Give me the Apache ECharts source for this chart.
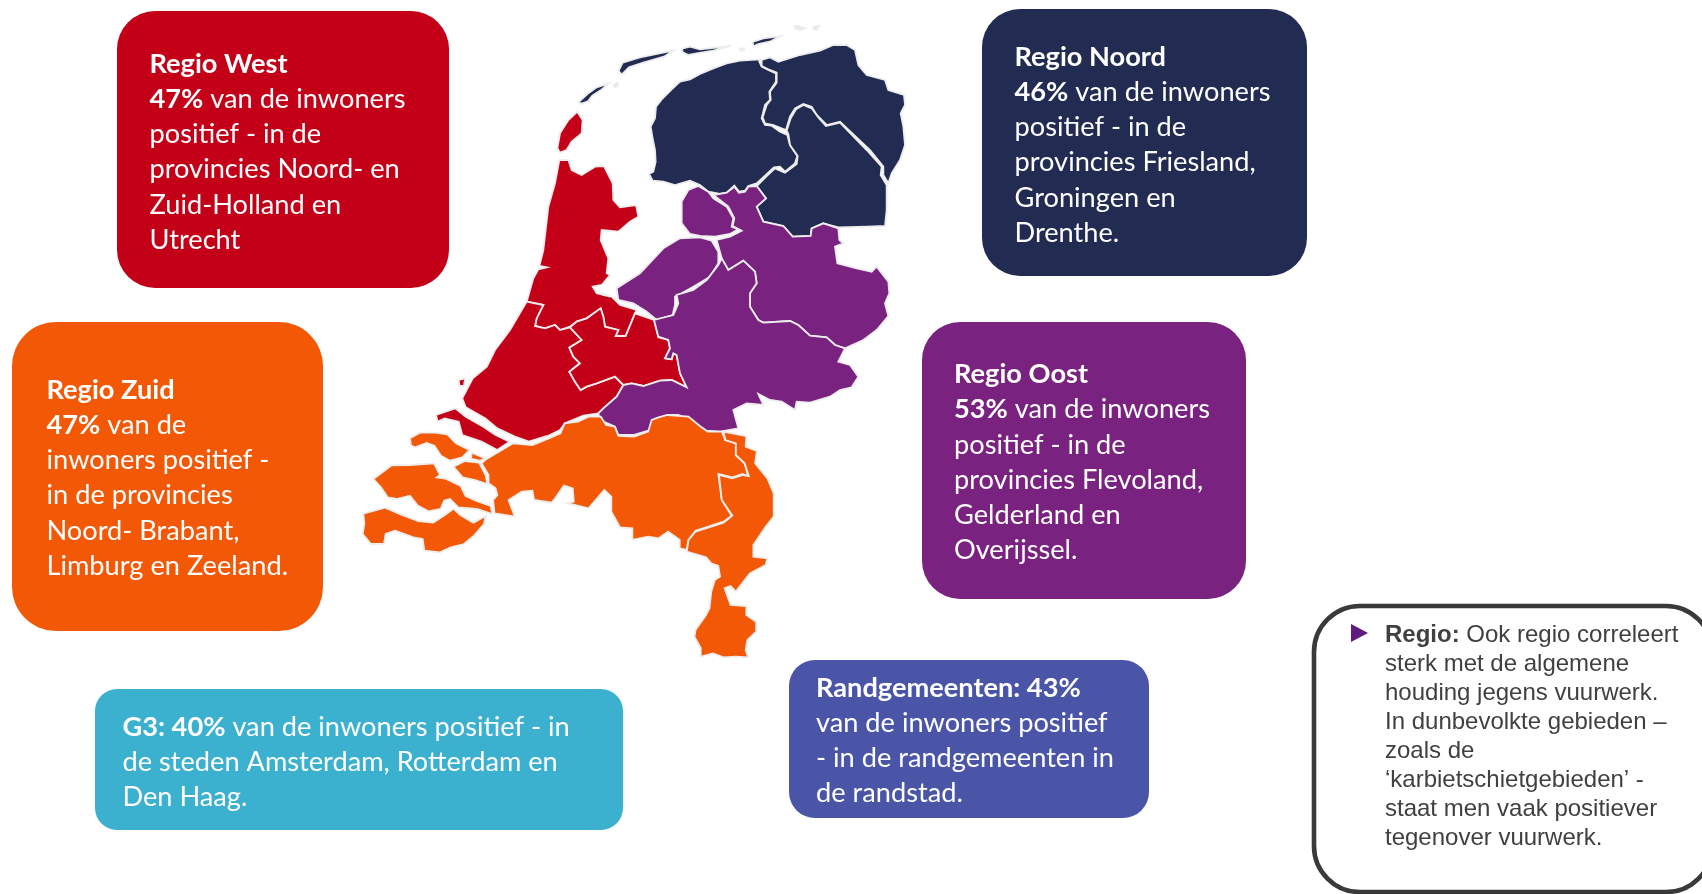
<!DOCTYPE html>
<html>
<head>
<meta charset="utf-8">
<style>html,body{margin:0;padding:0;background:#fff}#c{width:1702px;height:894px}</style>
<script src="https://cdn.jsdelivr.net/npm/echarts@6/dist/echarts.min.js"></script>
</head>
<body>
<div id="c"></div>
<script>
// ---- values ----
const regionNames = ['Regio West', 'Regio Noord', 'Regio Oost', 'Regio Zuid'];
const regionValues = [47, 46, 53, 47];
const g3Value = 40;
const randValue = 43;
const regionColors = ['#C30017', '#222B52', '#7A2280', '#F35806'];

const westLines = ['van de inwoners', 'positief - in de', 'provincies Noord- en', 'Zuid-Holland en', 'Utrecht'];
const noordLines = ['van de inwoners', 'positief - in de', 'provincies Friesland,', 'Groningen en', 'Drenthe.'];
const oostLines = ['van de inwoners', 'positief - in de', 'provincies Flevoland,', 'Gelderland en', 'Overijssel.'];
const zuidLines = ['van de', 'inwoners positief -', 'in de provincies', 'Noord- Brabant,', 'Limburg en Zeeland.'];
const g3Lines = ['van de inwoners positief - in', 'de steden Amsterdam, Rotterdam en', 'Den Haag.'];
const randLines = ['van de inwoners positief', '- in de randgemeenten in', 'de randstad.'];
const noteHead = 'Regio:';
const noteLines = ['Ook regio correleert', 'sterk met de algemene', 'houding jegens vuurwerk.', 'In dunbevolkte gebieden –', 'zoals de', '‘karbietschietgebieden’ -', 'staat men vaak positiever', 'tegenover vuurwerk.'];

// ---- map geometry: outlines, in enlarged units of four frames ----
const N = (p) => p.map(q => [500 + q[0] / 3, 10 + q[1] / 3]);
const S = (p) => p.map(q => [350 + q[0] / 2.851, 320 + q[1] / 3]);
const M = (p) => p.map(q => [480 + q[0] / 3, 250 + q[1] / 3]);
const Z = (p) => p.map(q => [350 + q[0] / 3, 400 + q[1] / 3]);

const texel = N([[232,305],[248,330],[245,370],[215,395],[200,420],[180,428],[172,415],[180,370],[205,330]]);
const vlieland = N([[235,277],[262,252],[290,232],[327,220],[302,241],[277,257],[264,274],[245,281]]);
const terschelling = N([[356,182],[368,158],[420,142],[522,121],[492,140],[430,158],[387,172],[365,194]]);
const ameland = N([[546,116],[570,110],[600,118],[692,108],[640,122],[590,130],[565,135],[548,127]]);
const schier = N([[758,96],[790,85],[842,78],[812,94],[775,102],[760,109]]);
const islet1 = N([[885,48],[895,48],[915,55],[900,60],[885,56]]);
const islet2 = N([[940,50],[958,47],[950,60],[942,58]]);
const islet3 = N([[720,115],[733,115],[730,122],[722,122]]);
const islet4 = N([[340,225],[352,218],[355,225],[345,233]]);

const friesland = N([[780,148],[720,152],[680,160],[640,175],[600,192],[570,208],[540,215],[515,238],[485,268],[468,290],[465,325],[452,350],[458,385],[465,420],[467,455],[460,485],[447,492],[458,512],[490,515],[525,525],[570,512],[600,525],[625,545],[660,552],[680,548],[703,527],[717,545],[735,542],[745,528],[770,520],[795,497],[822,472],[840,470],[855,485],[885,460],[892,438],[870,405],[862,375],[840,365],[815,347],[795,345],[785,325],[795,285],[810,270],[808,245],[828,215],[828,190],[805,180],[785,170],[778,155]]);
const groningen = N([[785,150],[810,142],[835,155],[900,135],[960,122],[1000,105],[1040,105],[1065,120],[1075,165],[1100,195],[1155,210],[1165,240],[1212,255],[1215,285],[1202,310],[1210,350],[1215,405],[1200,450],[1175,490],[1165,520],[1150,495],[1150,470],[1110,420],[1020,335],[980,345],[950,315],[935,290],[910,282],[885,295],[870,320],[858,360],[820,345],[795,340],[788,322],[800,285],[812,270],[810,245],[830,218],[830,188],[805,178],[785,168]]);
const drenthe = N([[910,285],[935,295],[955,322],[978,348],[1020,338],[1100,420],[1145,470],[1142,495],[1160,525],[1160,600],[1155,648],[1100,650],[1015,652],[970,640],[935,655],[932,678],[878,680],[850,648],[790,635],[770,590],[798,565],[770,528],[800,498],[825,475],[855,488],[890,462],[893,438],[870,405],[865,372],[860,362],[872,325],[888,298]]);
const overijssel = N([[640,555],[680,548],[703,530],[717,548],[735,545],[745,530],[770,528],[798,565],[770,590],[790,635],[850,648],[878,680],[932,678],[935,655],[970,640],[1015,655],[1018,690],[1030,700],[1005,710],[1012,760],[1070,775],[1115,785],[1130,770],[1165,815],[1168,850],[1155,880],[1165,918],[1130,960]])
  .concat(M([[1150,270],[1095,295],[1065,285],[1040,262],[990,257],[955,225],[930,213],[850,218],[835,210],[810,170],[810,130],[830,100],[825,65],[790,32],[745,60],[725,25]]))
  .concat(N([[650,690],[690,680],[725,662],[698,648],[703,625],[685,590]]));
const noordoostpolder = N([[595,528],[625,545],[640,565],[680,590],[700,625],[695,650],[715,658],[690,672],[645,680],[600,678],[570,672],[545,640],[545,575],[565,540]]);
const flevoland = N([[350,835],[420,790],[490,715],[540,685],[600,682],[635,692],[655,725],[655,760],[630,800],[580,830],[545,850],[525,860],[525,885],[518,915],[470,930],[440,905],[400,880],[355,870]]);
const gelderland = M([[725,25],[745,60],[790,32],[825,65],[830,100],[810,130],[810,170],[835,210],[850,218],[930,213],[955,225],[990,257],[1040,262],[1065,285],[1095,295],[1075,335],[1110,345],[1135,380],[1115,412],[1080,420],[1050,440],[990,458],[950,455],[945,480],[905,455],[870,450],[835,432],[850,465],[800,460],[760,480],[775,535],[720,545],[680,542],[630,510],[595,495],[565,495],[530,505],[510,540],[460,555],[415,555],[405,530],[360,510],[355,490],[370,475],[410,440],[430,405],[455,400],[490,408],[540,392],[575,390],[620,412],[600,370],[590,315],[580,310],[575,328],[555,325],[570,295],[565,270],[535,260],[522,210],[580,195],[595,160],[590,135],[640,120],[680,90],[715,45]]);
const utrecht = M([[465,190],[522,210],[535,262],[565,270],[570,295],[555,325],[575,328],[580,310],[590,315],[600,370],[620,412],[575,390],[540,392],[490,408],[455,400],[430,405],[405,380],[350,400],[320,410],[302,420],[285,395],[268,365],[300,340],[280,320],[268,293],[305,270],[270,232],[290,215],[320,205],[362,175],[370,200],[375,230],[415,240],[407,258],[437,258]]);
const noordHolland = N([[178,450],[205,450],[215,480],[245,495],[285,470],[312,468],[338,520],[340,570],[360,592],[408,585],[415,620],[390,635],[355,665],[305,660],[302,690],[325,745],[320,790],[330,795],[305,825],[278,830],[290,850],[330,860]])
  .concat(M([[365,130],[395,140],[420,165],[470,180],[465,190],[437,258],[407,258],[415,240],[375,230],[370,200],[362,175],[320,205],[290,215],[270,230],[240,240],[225,225],[195,235],[165,228],[170,205],[190,165],[140,155],[160,85],[175,58],[200,52],[178,48],[190,0]]))
  .concat(N([[145,590],[165,520]]));
const zuidHolland = M([[140,155],[190,165],[170,205],[165,228],[195,235],[225,225],[240,240],[270,232],[305,270],[268,293],[280,320],[300,340],[268,365],[285,395],[302,420],[320,410],[350,400],[405,380],[430,405],[410,440],[370,475],[355,490],[310,497],[255,520],[240,540],[190,565]])
  .concat(S([[555,350],[510,365],[470,350],[420,325],[385,295],[330,262],[320,235],[350,175],[390,140]]))
  .concat(M([[45,300],[90,240]]));
const goeree = S([[245,285],[300,265],[330,290],[380,320],[415,345],[455,365],[420,390],[375,365],[320,345],[310,305],[270,295],[250,305]]);
const maasvlakte = S([[310,180],[328,175],[325,198],[312,198]]);
const brabant = S([[385,420],[465,370],[520,375],[560,358],[600,340],[612,310],[650,305],[680,290],[715,290],[730,315],[755,320],[765,348],[810,350],[850,335],[860,300],[880,292],[905,285],[965,290],[1000,320],[1020,335],[1060,335],[1070,360],[1100,370],[1100,405],[1125,430],[1135,468],[1120,462],[1090,472],[1050,462],[1060,540],[1088,587],[1065,605],[985,632],[965,660],[960,690],[940,685],[940,660],[907,635],[880,655],[850,650],[805,660],[805,625],[770,622],[745,575],[745,530],[725,510],[680,565],[640,555],[620,550],[638,545],[635,505],[610,497],[585,535],[575,548],[525,540],[520,512],[490,515],[452,540],[470,590],[440,585],[412,580],[408,540],[420,525],[415,505],[395,490],[395,465],[375,430]]);
const limburg = S([[1065,335],[1130,348],[1128,380],[1160,393],[1155,430],[1190,475],[1208,520],[1208,590],[1185,620],[1150,675],[1150,710],[1190,715],[1185,735],[1140,760],[1100,815],[1085,798],[1068,805],[1085,855],[1130,858],[1130,885],[1158,905],[1158,935],[1133,960],[1128,990],[1135,1012],[1100,1010],[1065,1012],[1035,1000],[1000,1010],[1000,985],[982,950],[985,930],[1015,885],[1025,865],[1030,815],[1040,780],[1055,770],[1050,738],[1030,730],[1015,712],[960,695],[965,660],[985,635],[1065,608],[1090,587],[1060,540],[1052,465],[1090,475],[1120,465],[1137,468],[1125,430],[1100,405],[1100,370],[1070,360]]);
const schouwen = Z([[180,115],[210,98],[255,98],[292,103],[318,130],[358,150],[337,172],[300,182],[273,167],[253,137],[230,129],[195,142],[183,137]]);
const flakkee = Z([[365,158],[407,175],[390,182],[363,177]]);
const tholen = Z([[310,200],[345,183],[387,188],[407,225],[412,252],[375,240],[338,232]]);
const beveland = Z([[70,237],[125,196],[180,195],[252,190],[270,225],[260,232],[287,236],[332,258],[347,288],[380,303],[422,318],[427,342],[380,327],[325,322],[300,297],[282,302],[272,327],[235,334],[203,317],[180,287],[140,297],[113,292],[93,262]]);
const vlaanderen = Z([[40,341],[105,323],[152,343],[205,363],[250,368],[288,343],[310,326],[332,346],[370,368],[407,348],[402,372],[372,407],[342,432],[302,442],[270,457],[223,452],[218,417],[190,412],[135,392],[107,402],[102,432],[63,432],[38,402],[43,370]]);

const provinces = [
  ['Noord-Holland', 0, [noordHolland, texel]],
  ['Zuid-Holland', 0, [zuidHolland, goeree, maasvlakte]],
  ['Utrecht', 0, [utrecht]],
  ['Friesland', 1, [friesland, vlieland, terschelling, ameland]],
  ['Groningen', 1, [groningen, schier]],
  ['Drenthe', 1, [drenthe]],
  ['Overijssel', 2, [overijssel]],
  ['Flevoland', 2, [flevoland, noordoostpolder]],
  ['Gelderland', 2, [gelderland]],
  ['Noord-Brabant', 3, [brabant]],
  ['Limburg', 3, [limburg]],
  ['Zeeland', 3, [schouwen, flakkee, tholen, beveland, vlaanderen]],
  ['Eilandjes', -1, [islet1, islet2, islet3, islet4]]
];

// ---- build ----
const closeRing = (r) => r.concat([r[0]]);
const geojson = {
  type: 'FeatureCollection',
  features: provinces.map(p => ({
    type: 'Feature',
    properties: { name: p[0] },
    geometry: { type: 'MultiPolygon', coordinates: p[2].map(r => [closeRing(r)]) }
  }))
};
echarts.registerMap('nl', geojson);

const all = provinces.flatMap(p => p[2].flat());
const xs = all.map(q => q[0]), ys = all.map(q => q[1]);
const x0 = Math.min(...xs), x1 = Math.max(...xs), y0 = Math.min(...ys), y1 = Math.max(...ys);

const SANS = 'Lato, "Open Sans", sans-serif';
const LH = 35.2;
const FS = 27.2;
const rich = {
  b: { fontFamily: SANS, fontSize: FS, fontWeight: 700, fill: '#fff', color: '#fff', lineHeight: LH },
  r: { fontFamily: SANS, fontSize: FS, fontWeight: 400, fill: '#fff', color: '#fff', lineHeight: LH }
};
function box(x, y, w, h, r, color, textX, textY, text) {
  return [
    { type: 'rect', shape: { x, y, width: w, height: h, r }, style: { fill: color }, silent: true },
    { type: 'text', x: textX, y: textY - LH / 2, silent: true,
      style: { text, rich, fontFamily: SANS, fontSize: FS, fill: '#fff', lineHeight: LH, verticalAlign: 'top', align: 'left' } }
  ];
}
const head = (i, lines) => `{b|${regionNames[i]}}\n{b|${regionValues[i]}%}{r| ${lines[0]}}\n` + lines.slice(1).map(l => `{r|${l}}`).join('\n');

const graphics = [].concat(
  box(117, 11, 332, 277, 38, regionColors[0], 149.5, 64, head(0, westLines)),
  box(982, 9, 325, 267, 38, regionColors[1], 1014.5, 57, head(1, noordLines)),
  box(922, 322, 324, 277, 38, regionColors[2], 954, 374.5, head(2, oostLines)),
  box(12, 322, 311, 309, 44, regionColors[3], 46.5, 390, head(3, zuidLines)),
  box(95, 689, 528, 141, 22, '#3CB1CF', 122.5, 727, `{b|G3: ${g3Value}%}{r| ${g3Lines[0]}}\n` + g3Lines.slice(1).map(l => `{r|${l}}`).join('\n')),
  box(789, 660, 360, 158, 26, '#4A55A8', 816, 688, `{b|Randgemeenten: ${randValue}%}\n` + randLines.map(l => `{r|${l}}`).join('\n')),
  [
    { type: 'rect', shape: { x: 1314, y: 606, width: 398, height: 286, r: 46 }, silent: true,
      style: { fill: '#fff', stroke: '#3A3A3A', lineWidth: 4.6 } },
    { type: 'polygon', shape: { points: [[1351, 624], [1368, 633], [1351, 642]] }, silent: true, style: { fill: '#5F1B7E' } },
    { type: 'text', x: 1385, y: 620.5, silent: true,
      style: {
        text: `{h|${noteHead}}{t| ${noteLines[0]}}\n` + noteLines.slice(1).map(l => `{t|${l}}`).join('\n'),
        lineHeight: 29, verticalAlign: 'top',
        rich: {
          h: { fontFamily: '"Liberation Sans"', fontSize: 24, fontWeight: 700, fill: '#404040', color: '#404040', lineHeight: 29 },
          t: { fontFamily: '"Liberation Sans"', fontSize: 24, fill: '#404040', color: '#404040', lineHeight: 29 }
        }
      } }
  ]
);

const chart = echarts.init(document.getElementById('c'), null, { renderer: 'canvas' });
chart.setOption({
  animation: false,
  backgroundColor: '#fff',
  tooltip: { show: false },
  graphic: { elements: graphics },
  series: [{
    type: 'map',
    map: 'nl',
    silent: true,
    roam: false,
    projection: { project: (p) => p, unproject: (p) => p },
    layoutCenter: [(x0 + x1) / 2, (y0 + y1) / 2],
    layoutSize: Math.max(x1 - x0, y1 - y0),
    label: { show: false },
    emphasis: { disabled: true },
    select: { disabled: true },
    itemStyle: { areaColor: '#E8E8E8', borderColor: '#EDEDED', borderWidth: 1.8 },
    data: provinces.map(p => ({
      name: p[0],
      value: p[1] >= 0 ? regionValues[p[1]] : null,
      itemStyle: { areaColor: p[1] >= 0 ? regionColors[p[1]] : '#E8E8E8' }
    }))
  }]
});
</script>
</body>
</html>
